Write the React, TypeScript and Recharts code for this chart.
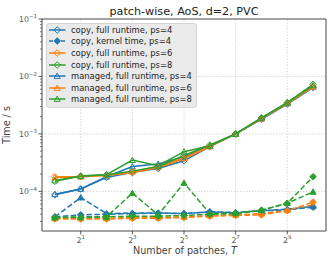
import React from 'react';
import { LineChart, Line, XAxis, YAxis, ReferenceLine, Legend } from 'recharts';

// number of patches T (x axis, log2)
const patches = [1, 2, 4, 8, 16, 32, 64, 128, 256, 512, 1024];

// full runtimes (s)
const copyFullPs4 = [8.7e-5, 1.1e-4, 1.75e-4, 2.15e-4, 2.5e-4, 3.4e-4, 6.0e-4, 1.0e-3, 1.8e-3, 3.3e-3, 6.4e-3];
const copyFullPs6 = [1.8e-4, 1.8e-4, 1.9e-4, 2.1e-4, 2.6e-4, 3.7e-4, 6.0e-4, 1.0e-3, 1.85e-3, 3.4e-3, 6.8e-3];
const copyFullPs8 = [1.5e-4, 1.85e-4, 1.95e-4, 2.25e-4, 2.7e-4, 4.2e-4, 6.4e-4, 1.0e-3, 1.9e-3, 3.5e-3, 7.3e-3];
const managedFullPs4 = [8.9e-5, 1.1e-4, 1.8e-4, 2.7e-4, 3.0e-4, 4.0e-4, 6.1e-4, 1.0e-3, 1.85e-3, 3.4e-3, 6.6e-3];
const managedFullPs6 = [1.75e-4, 1.8e-4, 1.9e-4, 2.2e-4, 2.7e-4, 3.8e-4, 6.1e-4, 1.0e-3, 1.85e-3, 3.4e-3, 6.6e-3];
const managedFullPs8 = [1.55e-4, 1.85e-4, 1.95e-4, 3.5e-4, 2.8e-4, 4.9e-4, 6.2e-4, 1.0e-3, 1.9e-3, 3.5e-3, 7.0e-3];

// kernel times (s)
const copyKernelPs4 = [3.6e-5, 3.9e-5, 4.0e-5, 4.1e-5, 4.2e-5, 4.1e-5, 4.4e-5, 4.2e-5, 4.6e-5, 4.8e-5, 5.3e-5];
const copyKernelPs6 = [3.3e-5, 3.3e-5, 3.3e-5, 3.4e-5, 3.4e-5, 3.5e-5, 3.7e-5, 3.8e-5, 3.9e-5, 4.6e-5, 6.5e-5];
const copyKernelPs8 = [3.5e-5, 3.5e-5, 3.6e-5, 3.7e-5, 3.7e-5, 3.8e-5, 4.0e-5, 4.1e-5, 4.7e-5, 6.2e-5, 1.8e-4];
const managedKernelPs4 = [3.6e-5, 7.8e-5, 4.1e-5, 4.2e-5, 4.2e-5, 4.1e-5, 4.4e-5, 4.3e-5, 4.6e-5, 4.9e-5, 5.5e-5];
const managedKernelPs6 = [3.4e-5, 3.4e-5, 3.4e-5, 3.5e-5, 3.5e-5, 3.6e-5, 3.8e-5, 3.9e-5, 4.1e-5, 4.7e-5, 5.8e-5];
const managedKernelPs8 = [3.5e-5, 3.6e-5, 3.6e-5, 9.3e-5, 3.9e-5, 1.4e-4, 4.1e-5, 4.2e-5, 4.7e-5, 6.2e-5, 9.8e-5];

const xTicks = [2, 8, 32, 128, 512];
const yMajor = [1e-4, 1e-3, 1e-2, 1e-1];

const BLUE = '#1f77b4';
const ORANGE = '#ff7f0e';
const GREEN = '#2ca02c';
const FONT = '"DejaVu Sans", sans-serif';

type Shape = 'D' | '^';
type Series = {
  key: string;
  label?: string;
  color: string;
  shape: Shape;
  filled: boolean;
  dashed: boolean;
  values: number[];
};

// drawing order
const series: Series[] = [
  { key: 'mk4', color: BLUE, shape: '^', filled: true, dashed: true, values: managedKernelPs4 },
  { key: 'mk6', color: ORANGE, shape: '^', filled: true, dashed: true, values: managedKernelPs6 },
  { key: 'ck4', label: 'copy, kernel time, ps=4', color: BLUE, shape: 'D', filled: true, dashed: true, values: copyKernelPs4 },
  { key: 'ck6', color: ORANGE, shape: 'D', filled: true, dashed: true, values: copyKernelPs6 },
  { key: 'mk8', color: GREEN, shape: '^', filled: true, dashed: true, values: managedKernelPs8 },
  { key: 'ck8', color: GREEN, shape: 'D', filled: true, dashed: true, values: copyKernelPs8 },
  { key: 'cf4', label: 'copy, full runtime, ps=4', color: BLUE, shape: 'D', filled: false, dashed: false, values: copyFullPs4 },
  { key: 'mf4', label: 'managed, full runtime, ps=4', color: BLUE, shape: '^', filled: false, dashed: false, values: managedFullPs4 },
  { key: 'cf6', label: 'copy, full runtime, ps=6', color: ORANGE, shape: 'D', filled: false, dashed: false, values: copyFullPs6 },
  { key: 'mf6', label: 'managed, full runtime, ps=6', color: ORANGE, shape: '^', filled: false, dashed: false, values: managedFullPs6 },
  { key: 'cf8', label: 'copy, full runtime, ps=8', color: GREEN, shape: 'D', filled: false, dashed: false, values: copyFullPs8 },
  { key: 'mf8', label: 'managed, full runtime, ps=8', color: GREEN, shape: '^', filled: false, dashed: false, values: managedFullPs8 },
];

const legendOrder = ['cf4', 'ck4', 'cf6', 'cf8', 'mf4', 'mf6', 'mf8'];

const data = patches.map((T, i) => {
  const row: Record<string, number> = { T };
  series.forEach((s) => {
    row[s.key] = s.values[i];
  });
  return row;
});

const yMin = Math.pow(10, -4.69);
const yMax = 0.1;
const xMin = Math.pow(2, -0.5);
const xMax = Math.pow(2, 10.5);

const yTicks: number[] = [];
for (let e = -5; e <= -1; e++) {
  for (let m = 1; m <= 9; m++) {
    const v = m * Math.pow(10, e);
    if (v >= yMin && v <= yMax * 1.0001) yTicks.push(v);
  }
}

function Marker({ cx, cy, shape, color, filled }: any) {
  if (cx == null || cy == null || isNaN(cx) || isNaN(cy)) return null;
  const fill = filled ? color : 'none';
  if (shape === 'D') {
    const r = 3.3;
    return (
      <polygon
        points={`${cx},${cy - r} ${cx + r},${cy} ${cx},${cy + r} ${cx - r},${cy}`}
        fill={fill}
        stroke={color}
        strokeWidth={1}
      />
    );
  }
  const r = 3;
  return (
    <polygon
      points={`${cx},${cy - r} ${cx + r},${cy + r * 0.8} ${cx - r},${cy + r * 0.8}`}
      fill={fill}
      stroke={color}
      strokeWidth={1}
    />
  );
}

function YTick(props: any) {
  const { x, y, payload } = props;
  const lg = Math.log10(payload.value);
  const exp = Math.round(lg);
  const major = Math.abs(lg - exp) < 1e-6;
  return (
    <g>
      <line x1={x - (major ? 3.5 : 2)} x2={x} y1={y} y2={y} stroke="#333" strokeWidth={major ? 0.8 : 0.6} />
      {major && (
        <text x={x - 5} y={y + 2.8} textAnchor="end" fontSize={7.8} fill="#555" fontFamily={FONT}>
          10
          <tspan dy={-3.4} fontSize={5.5}>
            {'\u2212' + -exp}
          </tspan>
        </text>
      )}
    </g>
  );
}

function XTick(props: any) {
  const { x, y, payload } = props;
  const exp = Math.round(Math.log2(payload.value));
  return (
    <g>
      <line x1={x} x2={x} y1={y} y2={y + 3.5} stroke="#333" strokeWidth={0.8} />
      <text x={x} y={y + 11.5} textAnchor="middle" fontSize={7.8} fill="#555" fontFamily={FONT}>
        2
        <tspan dy={-3.4} fontSize={5.5}>
          {exp}
        </tspan>
      </text>
    </g>
  );
}

function LegendBox() {
  return (
    <div
      style={{
        background: 'rgba(232,232,232,0.92)',
        border: '1px solid #d4d4d4',
        borderRadius: 3,
        padding: '0px 4px 2px 2px',
        fontFamily: FONT,
        fontSize: 8.4,
        color: '#222',
        whiteSpace: 'nowrap',
      }}
    >
      {legendOrder.map((k) => {
        const s = series.find((d) => d.key === k)!;
        return (
          <div key={k} style={{ display: 'flex', alignItems: 'center', height: 11.6 }}>
            <svg width={22} height={10} style={{ display: 'block' }}>
              <line
                x1={0}
                x2={16.5}
                y1={5}
                y2={5}
                stroke={s.color}
                strokeWidth={1.5}
                strokeDasharray={s.dashed ? '4 2' : undefined}
              />
              <Marker cx={8.2} cy={5} shape={s.shape} color={s.color} filled={s.filled} />
            </svg>
            <span>{s.label}</span>
          </div>
        );
      })}
    </div>
  );
}

export default function App() {
  return (
    <div style={{ position: 'absolute', left: 0, top: 0, width: 332, height: 264, background: '#fff' }}>
      <LineChart width={332} height={264} data={data} margin={{ top: 19, right: 6, left: 0, bottom: 0 }}>
        <XAxis
          dataKey="T"
          type="number"
          scale="log"
          domain={[xMin, xMax]}
          allowDataOverflow
          ticks={xTicks}
          interval={0}
          tickSize={0}
          tickMargin={0}
          tickLine={false}
          tick={<XTick />}
          height={33}
          axisLine={{ stroke: '#333', strokeWidth: 0.9 }}
          label={() => (
            <text x={185} y={254} textAnchor="middle" fontSize={9.6} fill="#444" fontFamily={FONT}>
              Number of patches, <tspan fontStyle="italic">T</tspan>
            </text>
          )}
        />
        <YAxis
          type="number"
          scale="log"
          domain={[yMin, yMax]}
          allowDataOverflow
          ticks={yTicks}
          interval={0}
          tickSize={0}
          tickMargin={0}
          tickLine={false}
          tick={<YTick />}
          width={42}
          axisLine={{ stroke: '#333', strokeWidth: 0.9 }}
          label={() => (
            <text x={10} y={125} transform="rotate(-90 10 125)" textAnchor="middle" fontSize={9.6} fill="#444" fontFamily={FONT}>
              Time / s
            </text>
          )}
        />
        {yMajor.slice(0, 3).map((v) => (
          <ReferenceLine key={'gy' + v} y={v} stroke="#c8c8c8" strokeWidth={0.7} strokeDasharray="1.5 1.5" />
        ))}
        {xTicks.map((v) => (
          <ReferenceLine key={'gx' + v} x={v} stroke="#c8c8c8" strokeWidth={0.7} strokeDasharray="1.5 1.5" />
        ))}
        <ReferenceLine y={yMax} stroke="#333" strokeWidth={0.9} />
        <ReferenceLine x={xMax} stroke="#333" strokeWidth={0.9} />
        {series.map((s) => (
          <Line
            key={s.key}
            dataKey={s.key}
            type="linear"
            stroke={s.color}
            strokeWidth={1.5}
            strokeDasharray={s.dashed ? '5.5 2.4' : undefined}
            isAnimationActive={false}
            legendType="none"
            dot={(p: any) => (
              <Marker key={s.key + p.index} cx={p.cx} cy={p.cy} shape={s.shape} color={s.color} filled={s.filled} />
            )}
            activeDot={false}
          />
        ))}
        <Legend
          layout="vertical"
          align="center"
          verticalAlign="middle"
          content={<LegendBox />}
          wrapperStyle={{ left: 46, top: 23, width: 'auto' }}
        />
        <text x={184} y={15} textAnchor="middle" fontSize={11.2} fill="#222" fontFamily={FONT}>
          patch-wise, AoS, d=2, PVC
        </text>
      </LineChart>
    </div>
  );
}
